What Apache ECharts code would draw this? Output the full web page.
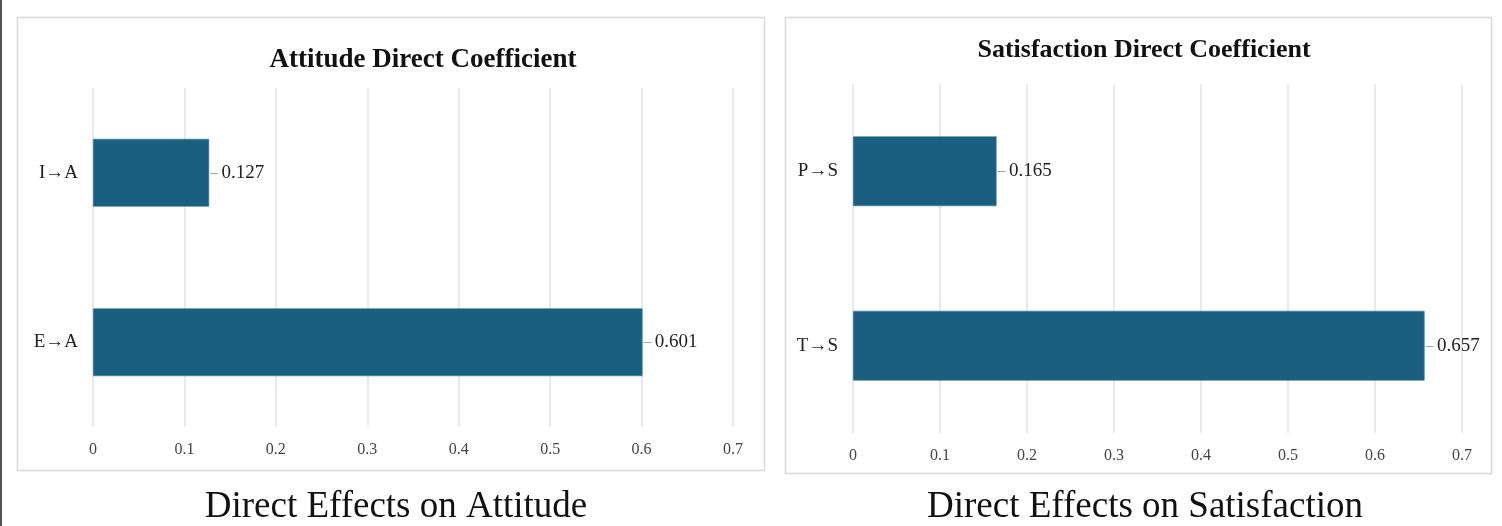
<!DOCTYPE html>
<html>
<head>
<meta charset="utf-8">
<script src="https://cdn.jsdelivr.net/npm/echarts@6/dist/echarts.min.js"></script>
<style>
html,body{margin:0;padding:0;background:#fff;}
#main{width:1502px;height:526px;}
</style>
</head>
<body>
<div id="main"></div>
<script>
// data
var attitudeCats = ['I→A', 'E→A'];
var attitudeVals = [0.127, 0.601];
var satisCats = ['P→S', 'T→S'];
var satisVals = [0.165, 0.657];
var xTicks = [0, 0.1, 0.2, 0.3, 0.4, 0.5, 0.6, 0.7];

var serif = '"Liberation Serif", "DejaVu Serif", serif';
var barColor = '#1a5f80';

function xAxisOf(gi){
	return {
		gridIndex: gi,
		type: 'value',
		min: xTicks[0],
		max: xTicks[xTicks.length - 1],
		interval: 0.1,
		axisLine: {show: false},
		axisTick: {show: false},
		axisLabel: {
			fontFamily: serif, fontSize: 16, color: '#444', margin: 15,
			formatter: function(v){ return String(Math.round(v * 10) / 10); }
		},
		splitLine: {show: true, lineStyle: {color: '#e2e2e2', width: 1.5}}
	};
}
function yAxisOf(gi, cats){
	return {
		gridIndex: gi,
		type: 'category',
		data: cats,
		inverse: true,
		axisLine: {show: false},
		axisTick: {show: false},
		axisLabel: {fontFamily: serif, fontSize: 19, color: '#222', margin: 15}
	};
}
function barOf(gi, vals){
	return {
		type: 'bar',
		xAxisIndex: gi,
		yAxisIndex: gi,
		data: vals,
		barWidth: '40%',
		itemStyle: {color: barColor, borderColor: '#3a7c9c', borderWidth: 0.6},
		label: {
			show: true,
			position: 'right',
			distance: 1,
			formatter: '{d|–} {v|{c}}',
			rich: {
				d: {color: '#999', fontFamily: serif, fontSize: 16},
				v: {color: '#222', fontFamily: serif, fontSize: 19}
			}
		}
	};
}

var chart = echarts.init(document.getElementById('main'));
chart.setOption({
	backgroundColor: '#fff',
	animation: false,
	title: [
		{text: 'Attitude Direct Coefficient', left: 418, top: 42, textAlign: 'center',
			textStyle: {fontFamily: serif, fontSize: 27, fontWeight: 'bold', color: '#111'}},
		{text: 'Satisfaction Direct Coefficient', left: 1139, top: 32, textAlign: 'center',
			textStyle: {fontFamily: serif, fontSize: 26, fontWeight: 'bold', color: '#111'}},
		{text: 'Direct Effects on Attitude', left: 391, top: 484, textAlign: 'center',
			textStyle: {fontFamily: serif, fontSize: 37, fontWeight: 'normal', color: '#111'}},
		{text: 'Direct Effects on Satisfaction', left: 1140, top: 484, textAlign: 'center',
			textStyle: {fontFamily: serif, fontSize: 37, fontWeight: 'normal', color: '#111'}}
	],
	graphic: [
		{type: 'rect', z: -1, shape: {x: 0, y: 0, width: 2, height: 526}, style: {fill: '#555'}},
		{type: 'rect', z: -1, shape: {x: 17.5, y: 17.5, width: 747, height: 453},
			style: {fill: '#fff', stroke: '#d8d8d8', lineWidth: 1.5}},
		{type: 'rect', z: -1, shape: {x: 785.5, y: 17.5, width: 706, height: 456},
			style: {fill: '#fff', stroke: '#d8d8d8', lineWidth: 1.5}}
	],
	grid: [
		{left: 93, right: 1502 - 733, top: 88, height: 339},
		{left: 853, right: 1502 - 1462, top: 84, height: 349}
	],
	xAxis: [xAxisOf(0), xAxisOf(1)],
	yAxis: [yAxisOf(0, attitudeCats), yAxisOf(1, satisCats)],
	series: [barOf(0, attitudeVals), barOf(1, satisVals)]
});
</script>
</body>
</html>
